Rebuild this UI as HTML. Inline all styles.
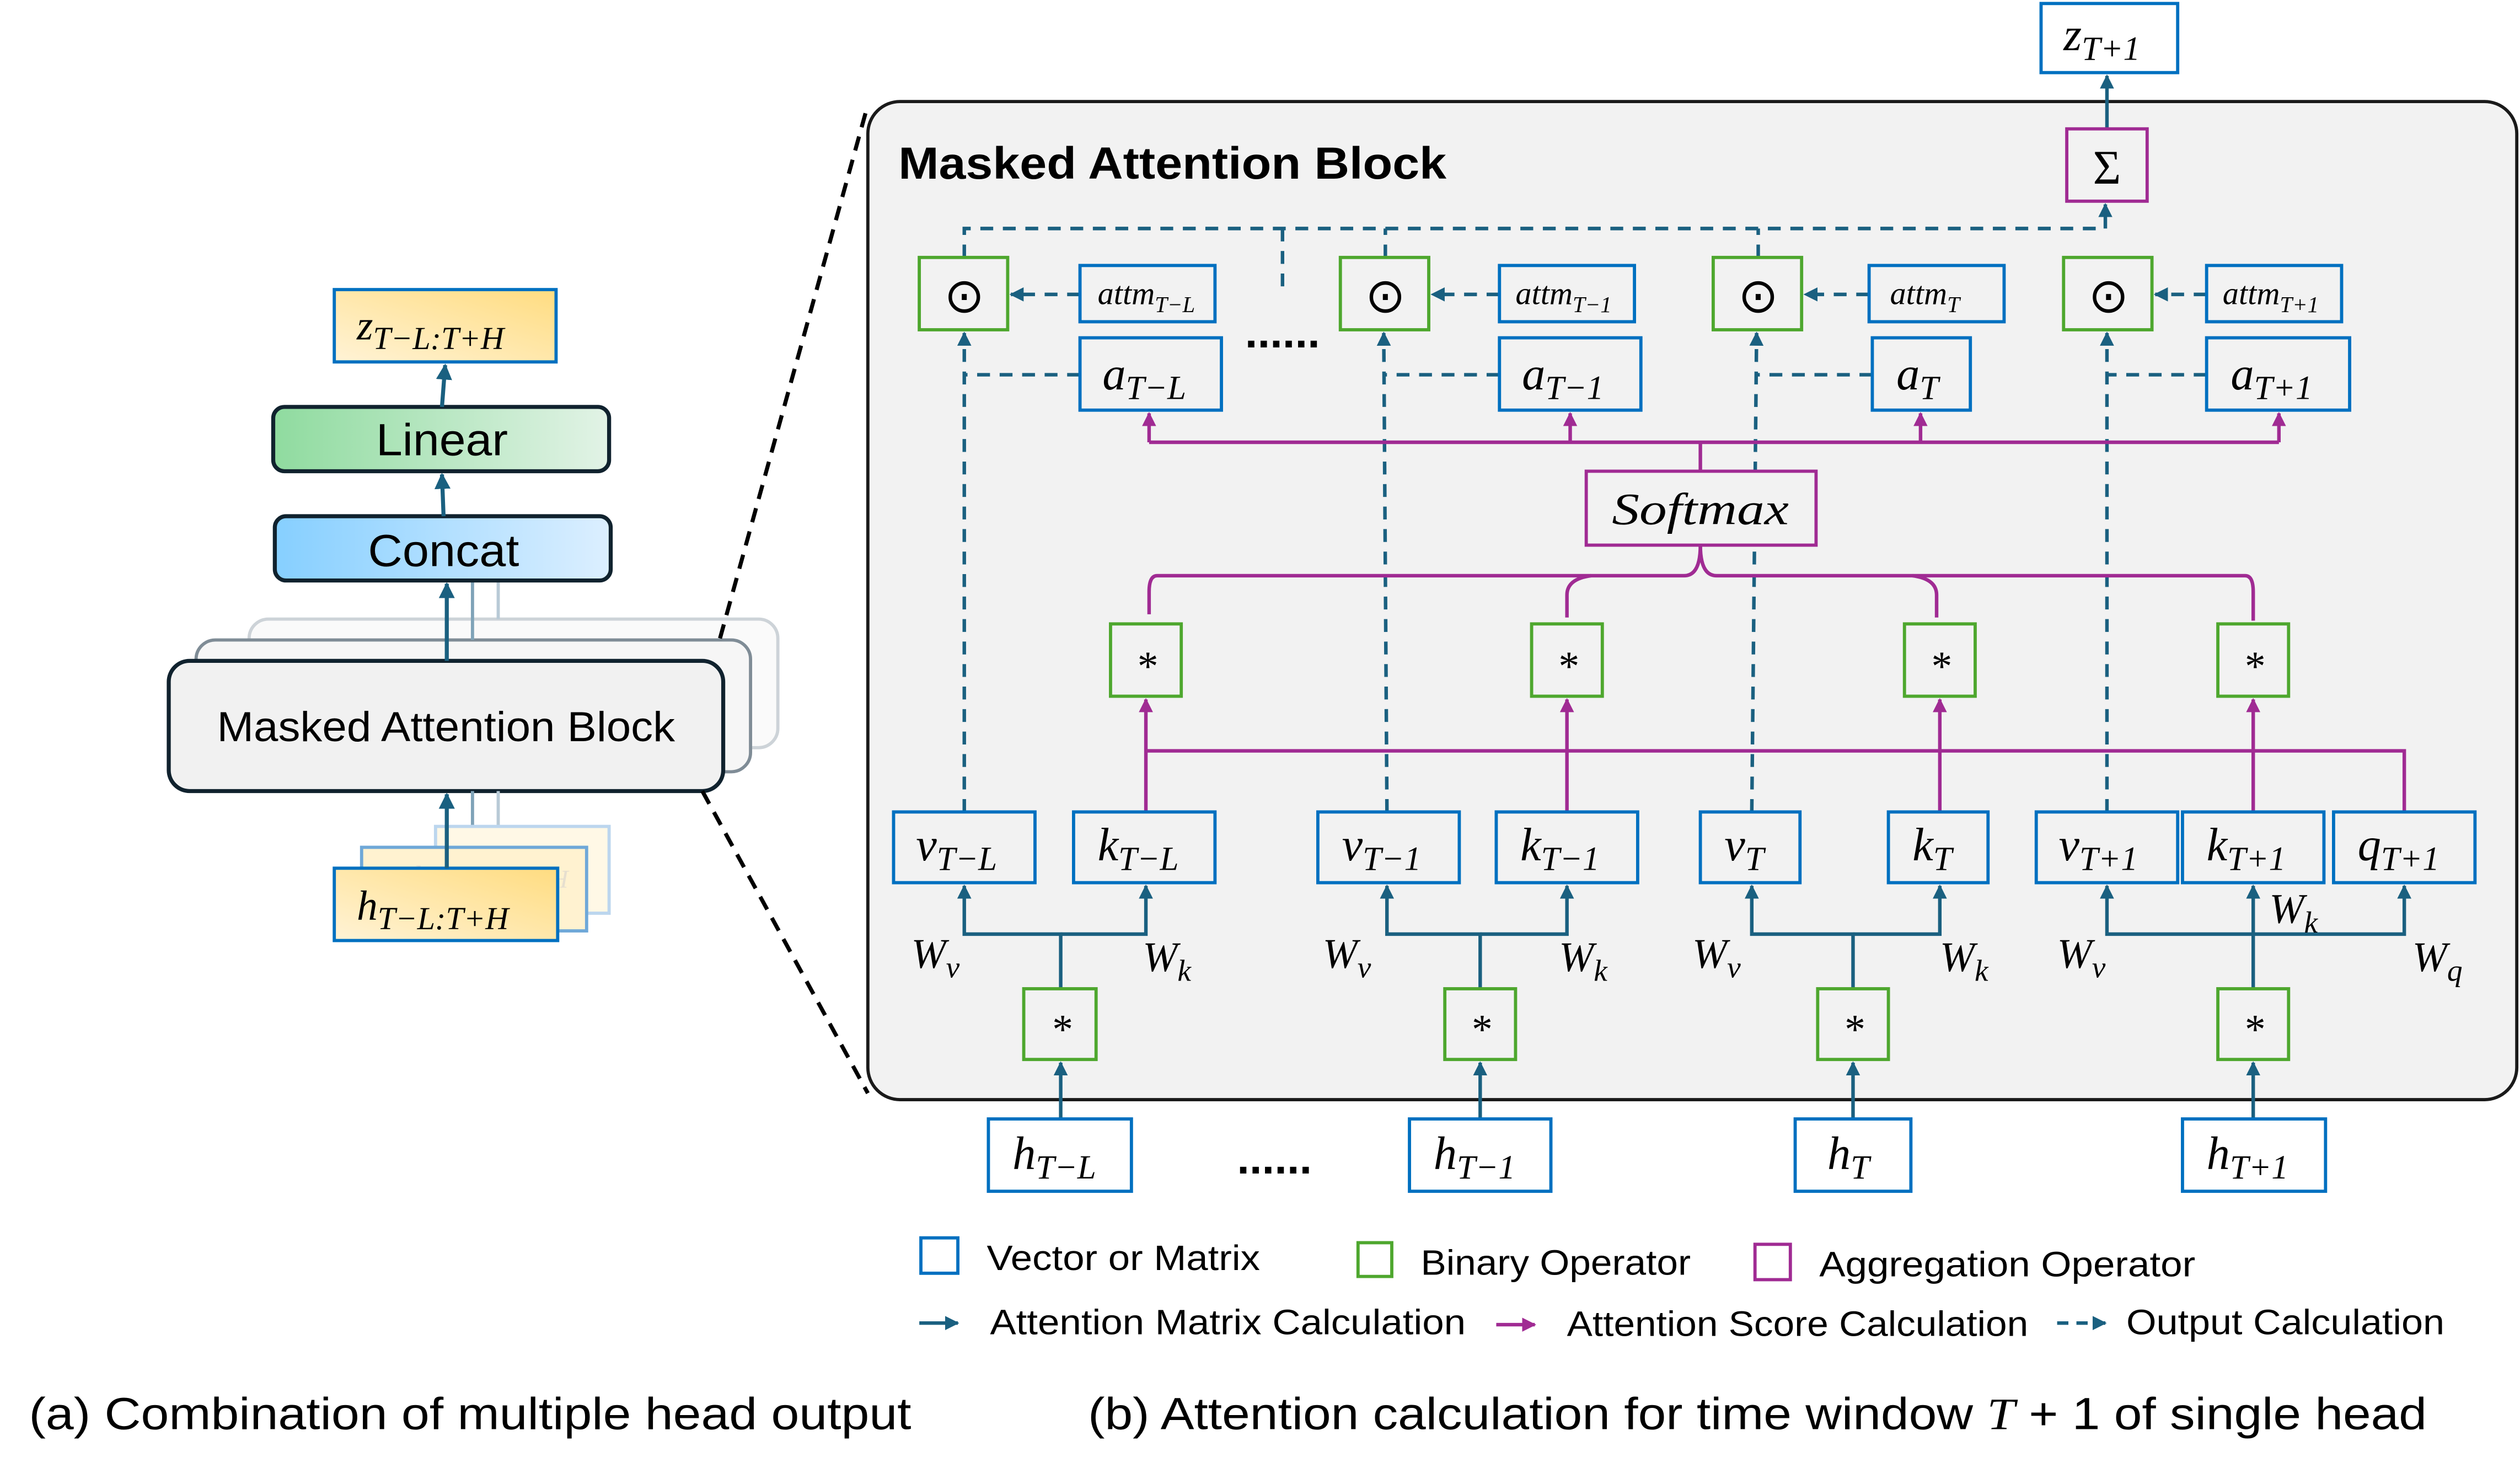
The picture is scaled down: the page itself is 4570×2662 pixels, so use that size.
<!DOCTYPE html>
<html><head><meta charset="utf-8"><style>
html,body{margin:0;padding:0;background:#fff;}
svg{display:block;}
.m{font-family:"Liberation Serif","DejaVu Serif",serif;font-style:italic;fill:#000;}
.s{font-family:"Liberation Sans","DejaVu Sans",sans-serif;fill:#000;}
</style></head><body>
<svg width="4570" height="2662" viewBox="0 0 1568 913" xmlns="http://www.w3.org/2000/svg">
<defs>
<marker id="at" viewBox="0 0 10 10" refX="9" refY="5" markerWidth="4" markerHeight="4" orient="auto"><path d="M0,0L10,5L0,10z" fill="#1a6080"/></marker>
<marker id="ap" viewBox="0 0 10 10" refX="9" refY="5" markerWidth="4" markerHeight="4" orient="auto"><path d="M0,0L10,5L0,10z" fill="#a02b93"/></marker>
<linearGradient id="gy" x1="0" y1="1" x2="1" y2="0"><stop offset="0" stop-color="#fff3d6"/><stop offset="1" stop-color="#ffdc80"/></linearGradient>
<linearGradient id="gg" x1="0" x2="1"><stop offset="0" stop-color="#8fdb9f"/><stop offset="1" stop-color="#e2f3e6"/></linearGradient>
<linearGradient id="gb" x1="0" x2="1"><stop offset="0" stop-color="#86cfff"/><stop offset="1" stop-color="#dcefff"/></linearGradient>
</defs>

<!-- LEFT PART -->
<rect x="155" y="385" width="329" height="80" rx="12" fill="#fafafa" stroke="#cdd3d8" stroke-width="2"/>
<rect x="122" y="398" width="345" height="82" rx="12" fill="#f6f6f6" stroke="#7f8c96" stroke-width="2"/>
<line x1="310" y1="361" x2="310" y2="385" stroke="#b8cad6" stroke-width="2"/>
<line x1="294" y1="361" x2="294" y2="398" stroke="#7fa3b8" stroke-width="2"/>
<rect x="105" y="411" width="345" height="81" rx="13" fill="#f1f1f1" stroke="#10222e" stroke-width="2.5"/>
<text x="135" y="461" class="s" font-size="26" textLength="285" lengthAdjust="spacingAndGlyphs">Masked Attention Block</text>

<rect x="171" y="321" width="209" height="40" rx="7" fill="url(#gb)" stroke="#10222e" stroke-width="2.5"/>
<text x="229" y="352" class="s" font-size="28" textLength="94" lengthAdjust="spacingAndGlyphs">Concat</text>
<rect x="170" y="253" width="209" height="40" rx="7" fill="url(#gg)" stroke="#10222e" stroke-width="2.5"/>
<text x="234" y="283" class="s" font-size="28" textLength="82" lengthAdjust="spacingAndGlyphs">Linear</text>
<rect x="208" y="180" width="138" height="45" fill="url(#gy)" stroke="#0070c0" stroke-width="2"/>
<text x="222" y="211" class="m" font-size="26">z<tspan font-size="20" dy="6">T−L:T+H</tspan></text>

<line x1="278" y1="411" x2="278" y2="363" stroke="#1a6080" stroke-width="2.5" marker-end="url(#at)"/>
<line x1="276" y1="321" x2="275" y2="295" stroke="#1a6080" stroke-width="2.5" marker-end="url(#at)"/>
<line x1="275" y1="253" x2="277" y2="227" stroke="#1a6080" stroke-width="2.5" marker-end="url(#at)"/>

<line x1="310" y1="492" x2="310" y2="514" stroke="#b8cad6" stroke-width="2"/>
<line x1="294" y1="492" x2="294" y2="528" stroke="#7fa3b8" stroke-width="2"/>
<rect x="271" y="514" width="108" height="54" fill="#fff8e6" stroke="#bcd6ee" stroke-width="2"/>
<rect x="225" y="527" width="140" height="52" fill="#fff2d0" stroke="#6fa8d8" stroke-width="2"/>
<text x="257" y="552" class="m" font-size="20" style="fill:#e6dfcf">h</text>
<text x="342" y="552" class="m" font-size="16" style="fill:#e6dfcf">H</text>
<rect x="208" y="540" width="139" height="45" fill="url(#gy)" stroke="#0070c0" stroke-width="2"/>
<text x="222" y="572" class="m" font-size="26">h<tspan font-size="20" dy="6">T−L:T+H</tspan></text>
<line x1="278" y1="540" x2="278" y2="494" stroke="#1a6080" stroke-width="2.5" marker-end="url(#at)"/>

<line x1="448" y1="397" x2="540" y2="65" stroke="#000" stroke-width="2.5" stroke-dasharray="9,6"/>
<line x1="437" y1="492" x2="540" y2="680" stroke="#000" stroke-width="2.5" stroke-dasharray="9,6"/>

<!-- PANEL -->
<rect x="540" y="63" width="1026" height="621" rx="20" fill="#f2f2f2" stroke="#1a1a1a" stroke-width="2"/>
<text x="559" y="111" class="s" font-size="28" font-weight="bold" textLength="341" lengthAdjust="spacingAndGlyphs">Masked Attention Block</text>

<g fill="none" stroke="#1a6080" stroke-width="2.2" stroke-dasharray="8,6">
<path d="M600,160V142H1310V127" marker-end="url(#at)"/>
<path d="M862,160V142M1094,160V142M798,142V180"/>
<path d="M1311,80V47" stroke-dasharray="none" marker-end="url(#at)"/>
<path d="M600,505V207" marker-end="url(#at)"/>
<path d="M863,505L861,207" marker-end="url(#at)"/>
<path d="M1090,505L1093,207" marker-end="url(#at)"/>
<path d="M1311,505V207" marker-end="url(#at)"/>
<path d="M672,233H600M933,233H861M1165,233H1093M1373,233H1311"/>
<path d="M672,183H629" marker-end="url(#at)"/>
<path d="M933,183H891" marker-end="url(#at)"/>
<path d="M1163,183H1123" marker-end="url(#at)"/>
<path d="M1373,183H1341" marker-end="url(#at)"/>
</g>

<g fill="none" stroke="#a02b93" stroke-width="2.2">
<path d="M1058,293V275"/>
<path d="M715,275H1418"/>
<path d="M715,275V257" marker-end="url(#ap)"/>
<path d="M977,275V257" marker-end="url(#ap)"/>
<path d="M1195,275V257" marker-end="url(#ap)"/>
<path d="M1418,275V257" marker-end="url(#ap)"/>
<path d="M1058,339Q1058,358 1048,358H720Q715,358 715,368V382"/>
<path d="M1058,339Q1058,358 1068,358H1397Q1402,358 1402,368V386"/>
<path d="M975,384V370Q975,360 990,358"/>
<path d="M1205,384V370Q1205,360 1190,358"/>
<path d="M713,505V435" marker-end="url(#ap)"/>
<path d="M975,505V435" marker-end="url(#ap)"/>
<path d="M1207,505V435" marker-end="url(#ap)"/>
<path d="M1402,505V435" marker-end="url(#ap)"/>
<path d="M713,467H1496V505"/>
</g>

<g fill="none" stroke="#1a6080" stroke-width="2.2">
<path d="M660,696V661" marker-end="url(#at)"/>
<path d="M921,696V661" marker-end="url(#at)"/>
<path d="M1153,696V661" marker-end="url(#at)"/>
<path d="M1402,696V661" marker-end="url(#at)"/>
<path d="M660,615V581H600V551" marker-end="url(#at)"/>
<path d="M660,581H713V551" marker-end="url(#at)"/>
<path d="M921,615V581H863V551" marker-end="url(#at)"/>
<path d="M921,581H975V551" marker-end="url(#at)"/>
<path d="M1153,615V581H1090V551" marker-end="url(#at)"/>
<path d="M1153,581H1207V551" marker-end="url(#at)"/>
<path d="M1402,615V581H1311V551" marker-end="url(#at)"/>
<path d="M1402,581V551" marker-end="url(#at)"/>
<path d="M1402,581H1496V551" marker-end="url(#at)"/>
</g>

<g fill="#f2f2f2" stroke-width="2">
<g stroke="#4ea72e">
<rect x="572" y="160" width="55" height="45"/><rect x="834" y="160" width="55" height="45"/>
<rect x="1066" y="160" width="55" height="45"/><rect x="1284" y="160" width="55" height="45"/>
<rect x="691" y="388" width="44" height="45"/><rect x="953" y="388" width="44" height="45"/>
<rect x="1185" y="388" width="44" height="45"/><rect x="1380" y="388" width="44" height="45"/>
<rect x="637" y="615" width="45" height="44"/><rect x="899" y="615" width="44" height="44"/>
<rect x="1131" y="615" width="44" height="44"/><rect x="1380" y="615" width="44" height="44"/>
</g>
<g stroke="#0070c0">
<rect x="672" y="165" width="84" height="35"/><rect x="933" y="165" width="84" height="35"/>
<rect x="1163" y="165" width="84" height="35"/><rect x="1373" y="165" width="84" height="35"/>
<rect x="672" y="210" width="88" height="45"/><rect x="933" y="210" width="88" height="45"/>
<rect x="1165" y="210" width="61" height="45"/><rect x="1373" y="210" width="89" height="45"/>
<rect x="556" y="505" width="88" height="44"/><rect x="668" y="505" width="88" height="44"/>
<rect x="820" y="505" width="88" height="44"/><rect x="931" y="505" width="88" height="44"/>
<rect x="1058" y="505" width="62" height="44"/><rect x="1175" y="505" width="62" height="44"/>
<rect x="1267" y="505" width="88" height="44"/><rect x="1358" y="505" width="88" height="44"/>
<rect x="1452" y="505" width="88" height="44"/>
<rect x="615" y="696" width="89" height="45" fill="#fff"/><rect x="877" y="696" width="88" height="45" fill="#fff"/>
<rect x="1117" y="696" width="72" height="45" fill="#fff"/><rect x="1358" y="696" width="89" height="45" fill="#fff"/>
<rect x="1270" y="2" width="85" height="43" fill="#fff"/>
</g>
<g stroke="#a02b93">
<rect x="1286" y="80" width="50" height="45"/>
<rect x="987" y="293" width="143" height="46"/>
</g>
</g>

<g class="s" font-size="30" text-anchor="middle">
<text x="600" y="194" class="s">⊙</text><text x="862" y="194" class="s">⊙</text>
<text x="1094" y="194" class="s">⊙</text><text x="1312" y="194" class="s">⊙</text>
</g>
<g class="m" font-size="26" text-anchor="middle">
<text x="713" y="423">*</text><text x="975" y="423">*</text><text x="1207" y="423">*</text><text x="1402" y="423">*</text>
<text x="660" y="649">*</text><text x="921" y="649">*</text><text x="1153" y="649">*</text><text x="1402" y="649">*</text>
<text x="1311" y="114" font-style="normal" font-size="30">Σ</text>
</g>
<text x="1003" y="326" class="m" font-size="28" textLength="110" lengthAdjust="spacingAndGlyphs">Softmax</text>
<g class="m" font-size="20">
<text x="683" y="189">attm<tspan font-size="14" dy="5">T−L</tspan></text>
<text x="943" y="189">attm<tspan font-size="14" dy="5">T−1</tspan></text>
<text x="1176" y="189">attm<tspan font-size="14" dy="5">T</tspan></text>
<text x="1383" y="189">attm<tspan font-size="14" dy="5">T+1</tspan></text>
</g>
<g class="m" font-size="29">
<text x="686" y="242">a<tspan font-size="21" dy="6">T−L</tspan></text>
<text x="947" y="242">a<tspan font-size="21" dy="6">T−1</tspan></text>
<text x="1180" y="242">a<tspan font-size="21" dy="6">T</tspan></text>
<text x="1388" y="242">a<tspan font-size="21" dy="6">T+1</tspan></text>
<text x="570" y="535">v<tspan font-size="21" dy="6">T−L</tspan></text>
<text x="683" y="535">k<tspan font-size="21" dy="6">T−L</tspan></text>
<text x="835" y="535">v<tspan font-size="21" dy="6">T−1</tspan></text>
<text x="946" y="535">k<tspan font-size="21" dy="6">T−1</tspan></text>
<text x="1073" y="535">v<tspan font-size="21" dy="6">T</tspan></text>
<text x="1190" y="535">k<tspan font-size="21" dy="6">T</tspan></text>
<text x="1281" y="535">v<tspan font-size="21" dy="6">T+1</tspan></text>
<text x="1373" y="535">k<tspan font-size="21" dy="6">T+1</tspan></text>
<text x="1467" y="535">q<tspan font-size="21" dy="6">T+1</tspan></text>
<text x="630" y="727">h<tspan font-size="21" dy="6">T−L</tspan></text>
<text x="892" y="727">h<tspan font-size="21" dy="6">T−1</tspan></text>
<text x="1137" y="727">h<tspan font-size="21" dy="6">T</tspan></text>
<text x="1373" y="727">h<tspan font-size="21" dy="6">T+1</tspan></text>
<text x="1284" y="31">z<tspan font-size="21" dy="6">T+1</tspan></text>
</g>
<g class="m" font-size="26">
<text x="567" y="602">W<tspan font-size="19" dy="6">v</tspan></text>
<text x="711" y="604">W<tspan font-size="19" dy="6">k</tspan></text>
<text x="823" y="602">W<tspan font-size="19" dy="6">v</tspan></text>
<text x="970" y="604">W<tspan font-size="19" dy="6">k</tspan></text>
<text x="1053" y="602">W<tspan font-size="19" dy="6">v</tspan></text>
<text x="1207" y="604">W<tspan font-size="19" dy="6">k</tspan></text>
<text x="1280" y="602">W<tspan font-size="19" dy="6">v</tspan></text>
<text x="1412" y="574">W<tspan font-size="19" dy="6">k</tspan></text>
<text x="1501" y="604">W<tspan font-size="19" dy="6">q</tspan></text>
</g>
<text x="798" y="216" class="s" font-size="28" font-weight="bold" text-anchor="middle">......</text>
<text x="793" y="730" class="s" font-size="28" font-weight="bold" text-anchor="middle">......</text>

<rect x="573" y="770" width="23" height="22" fill="none" stroke="#0070c0" stroke-width="2"/>
<text x="614" y="790" class="s" font-size="22" textLength="170" lengthAdjust="spacingAndGlyphs">Vector or Matrix</text>
<rect x="845" y="773" width="21" height="21" fill="none" stroke="#4ea72e" stroke-width="2"/>
<text x="884" y="793" class="s" font-size="22" textLength="168" lengthAdjust="spacingAndGlyphs">Binary Operator</text>
<rect x="1092" y="774" width="22" height="22" fill="none" stroke="#a02b93" stroke-width="2"/>
<text x="1132" y="794" class="s" font-size="22" textLength="234" lengthAdjust="spacingAndGlyphs">Aggregation Operator</text>
<line x1="572" y1="823" x2="596" y2="823" stroke="#1a6080" stroke-width="2.2" marker-end="url(#at)"/>
<text x="616" y="830" class="s" font-size="22" textLength="296" lengthAdjust="spacingAndGlyphs">Attention Matrix Calculation</text>
<line x1="931" y1="824" x2="955" y2="824" stroke="#a02b93" stroke-width="2.2" marker-end="url(#ap)"/>
<text x="975" y="831" class="s" font-size="22" textLength="287" lengthAdjust="spacingAndGlyphs">Attention Score Calculation</text>
<line x1="1280" y1="823" x2="1310" y2="823" stroke="#1a6080" stroke-width="2.2" stroke-dasharray="7,5" marker-end="url(#at)"/>
<text x="1323" y="830" class="s" font-size="22" textLength="198" lengthAdjust="spacingAndGlyphs">Output Calculation</text>

<text x="18" y="889" class="s" font-size="28" textLength="549" lengthAdjust="spacingAndGlyphs">(a) Combination of multiple head output</text>
<text x="677" y="889" class="s" font-size="28" textLength="833" lengthAdjust="spacingAndGlyphs">(b) Attention calculation for time window <tspan class="m">T</tspan> + 1 of single head</text>
</svg>
</body></html>
